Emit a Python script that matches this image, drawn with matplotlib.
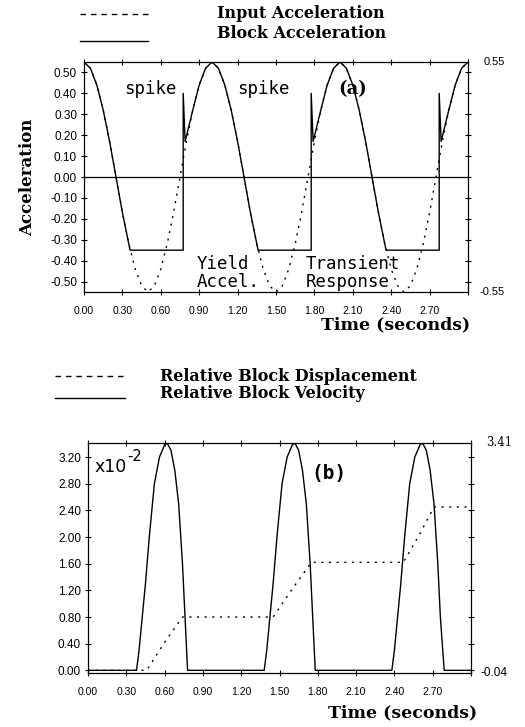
import matplotlib
matplotlib.use("Agg")
import matplotlib.pyplot as plt
from matplotlib.lines import Line2D

# ---------------- data ----------------
# Panel (a): input acceleration (g) sampled every 0.05 s
input_t = [0.00, 0.05, 0.10, 0.15, 0.20, 0.25, 0.30, 0.35, 0.40, 0.45,
           0.50, 0.55, 0.60, 0.65, 0.70, 0.75, 0.80, 0.85, 0.90, 0.95,
           1.00, 1.05, 1.10, 1.15, 1.20, 1.25, 1.30, 1.35, 1.40, 1.45,
           1.50, 1.55, 1.60, 1.65, 1.70, 1.75, 1.80, 1.85, 1.90, 1.95,
           2.00, 2.05, 2.10, 2.15, 2.20, 2.25, 2.30, 2.35, 2.40, 2.45,
           2.50, 2.55, 2.60, 2.65, 2.70, 2.75, 2.80, 2.85, 2.90, 2.95, 3.00]
input_acc = [0.55, 0.52, 0.44, 0.32, 0.17, 0.00, -0.17, -0.32, -0.44, -0.52,
             -0.55, -0.52, -0.44, -0.32, -0.17, 0.00, 0.17, 0.32, 0.44, 0.52,
             0.55, 0.52, 0.44, 0.32, 0.17, 0.00, -0.17, -0.32, -0.44, -0.52,
             -0.55, -0.52, -0.44, -0.32, -0.17, 0.00, 0.17, 0.32, 0.44, 0.52,
             0.55, 0.52, 0.44, 0.32, 0.17, 0.00, -0.17, -0.32, -0.44, -0.52,
             -0.55, -0.52, -0.44, -0.32, -0.17, 0.00, 0.17, 0.32, 0.44, 0.52, 0.55]

# Block acceleration (yield acceleration -0.35 g, spikes at end of sliding)
block_t = [0.00, 0.05, 0.10, 0.15, 0.20, 0.25, 0.30, 0.36, 0.775, 0.775, 0.79,
           0.85, 0.90, 0.95, 1.00, 1.05, 1.10, 1.15, 1.20, 1.25, 1.30, 1.36,
           1.775, 1.775, 1.79, 1.85, 1.90, 1.95, 2.00, 2.05, 2.10, 2.15, 2.20,
           2.25, 2.30, 2.36, 2.775, 2.775, 2.79, 2.85, 2.90, 2.95, 3.00]
block_acc = [0.55, 0.52, 0.44, 0.32, 0.17, 0.00, -0.17, -0.35, -0.35, 0.40, 0.17,
             0.32, 0.44, 0.52, 0.55, 0.52, 0.44, 0.32, 0.17, 0.00, -0.17, -0.35,
             -0.35, 0.40, 0.17, 0.32, 0.44, 0.52, 0.55, 0.52, 0.44, 0.32, 0.17,
             0.00, -0.17, -0.35, -0.35, 0.40, 0.17, 0.32, 0.44, 0.52, 0.55]

# Panel (b): relative block velocity (x10^-2)
vel_t = [0.00, 0.38, 0.40, 0.42, 0.45, 0.48, 0.52, 0.56, 0.60, 0.62, 0.65, 0.68,
         0.71, 0.74, 0.76, 0.78,
         1.38, 1.40, 1.42, 1.45, 1.48, 1.52, 1.56, 1.60, 1.62, 1.65, 1.68,
         1.71, 1.74, 1.76, 1.78,
         2.38, 2.40, 2.42, 2.45, 2.48, 2.52, 2.56, 2.60, 2.62, 2.65, 2.68,
         2.71, 2.74, 2.76, 2.79, 3.00]
vel_v = [0.00, 0.00, 0.30, 0.70, 1.30, 2.00, 2.80, 3.20, 3.38, 3.41, 3.30, 3.00,
         2.50, 1.60, 0.80, 0.00,
         0.00, 0.30, 0.70, 1.30, 2.00, 2.80, 3.20, 3.38, 3.41, 3.30, 3.00,
         2.50, 1.60, 0.80, 0.00,
         0.00, 0.30, 0.70, 1.30, 2.00, 2.80, 3.20, 3.38, 3.41, 3.30, 3.00,
         2.50, 1.60, 0.80, 0.00, 0.00]

# Relative block displacement (x10^-2)
disp_t = [0.00, 0.46, 0.60, 0.74, 1.45, 1.60, 1.75, 2.47, 2.60, 2.71, 3.00]
disp_d = [0.00, 0.00, 0.42, 0.80, 0.80, 1.22, 1.62, 1.62, 2.05, 2.45, 2.45]

time_ticks = [0.00, 0.30, 0.60, 0.90, 1.20, 1.50, 1.80, 2.10, 2.40, 2.70, 3.00]
time_labels = ["0.00", "0.30", "0.60", "0.90", "1.20", "1.50", "1.80",
               "2.10", "2.40", "2.70", ""]
acc_ticks = [0.50, 0.40, 0.30, 0.20, 0.10, 0.00, -0.10, -0.20, -0.30, -0.40, -0.50]
acc_labels = ["0.50", "0.40", "0.30", "0.20", "0.10", "0.00",
              "-0.10", "-0.20", "-0.30", "-0.40", "-0.50"]
disp_ticks = [0.00, 0.40, 0.80, 1.20, 1.60, 2.00, 2.40, 2.80, 3.20]
disp_labels = ["0.00", "0.40", "0.80", "1.20", "1.60", "2.00", "2.40", "2.80", "3.20"]

# ---------------- figure ----------------
W, H = 525, 727
fig = plt.figure(figsize=(W / 100, H / 100), dpi=100)
fig.patch.set_facecolor("white")

SERIF = "DejaVu Serif"
MONO = "DejaVu Sans Mono"
SANS = "Liberation Sans"


def fx(px):
    return px / W


def fy(py):
    return 1 - py / H


def style_axes(ax):
    for s in ax.spines.values():
        s.set_linewidth(0.9)
        s.set_color("black")
    ax.tick_params(axis="both", which="both", direction="inout", length=4,
                   width=0.8, top=True, right=True, labelright=False,
                   labeltop=False, colors="black")
    ax.tick_params(axis="x", labelsize=7.5, pad=8)
    ax.tick_params(axis="y", labelsize=8.5, pad=3)
    for lab in ax.get_xticklabels() + ax.get_yticklabels():
        lab.set_family(SANS)


# ---------- panel (a) ----------
axa = fig.add_axes([fx(84), fy(292), fx(468) - fx(84), fy(62) - fy(292)])
axa.plot(input_t, input_acc, color="black", lw=1.0, ls=(0, (1.5, 4)))
axa.plot(block_t, block_acc, color="black", lw=1.0)
axa.axhline(0, color="black", lw=0.9)
axa.set_xlim(0, 3.0)
axa.set_ylim(-0.55, 0.55)
axa.set_xticks(time_ticks)
axa.set_xticklabels(time_labels)
axa.set_yticks(acc_ticks)
axa.set_yticklabels(acc_labels)
style_axes(axa)
axa.set_ylabel("Acceleration", family=SERIF, fontweight="bold", fontsize=12,
               labelpad=10)
axa.text(1.04, 1.0, "0.55", transform=axa.transAxes, ha="left", va="center",
         family=SANS, fontsize=8)
axa.text(1.03, 0.0, "-0.55", transform=axa.transAxes, ha="left", va="center",
         family=SANS, fontsize=8)
axa.text(0.52, 0.42, "spike", ha="center", va="center", family=MONO, fontsize=12.5)
axa.text(1.40, 0.42, "spike", ha="center", va="center", family=MONO, fontsize=12.5)
axa.text(2.10, 0.42, "(a)", ha="center", va="center", family=SERIF,
         fontweight="bold", fontsize=13)
axa.text(0.88, -0.415, "Yield", ha="left", va="center", family=MONO, fontsize=12.5)
axa.text(0.88, -0.50, "Accel.", ha="left", va="center", family=MONO, fontsize=12.5)
axa.text(1.73, -0.415, "Transient", ha="left", va="center", family=MONO, fontsize=12.5)
axa.text(1.73, -0.50, "Response", ha="left", va="center", family=MONO, fontsize=12.5)

fig.text(fx(470), fy(325), "Time (seconds)", ha="right", va="center",
         family=SERIF, fontweight="bold", fontsize=12.5)

# legend (a)
fig.add_artist(Line2D([fx(80), fx(148)], [fy(14), fy(14)], color="black",
                      lw=1.0, ls=(0, (4, 3.5))))
fig.add_artist(Line2D([fx(80), fx(148)], [fy(41), fy(41)], color="black", lw=1.0))
fig.text(fx(217), fy(14), "Input Acceleration", ha="left", va="center",
         family=SERIF, fontweight="bold", fontsize=11.5)
fig.text(fx(217), fy(33), "Block Acceleration", ha="left", va="center",
         family=SERIF, fontweight="bold", fontsize=11.5)

# ---------- panel (b) ----------
axb = fig.add_axes([fx(88), fy(673), fx(471) - fx(88), fy(443) - fy(673)])
axb.plot(disp_t, disp_d, color="black", lw=1.0, ls=(0, (1.5, 4)))
axb.plot(vel_t, vel_v, color="black", lw=1.0)
axb.set_xlim(0, 3.0)
axb.set_ylim(-0.04, 3.41)
axb.set_xticks(time_ticks)
axb.set_xticklabels(time_labels)
axb.set_yticks(disp_ticks)
axb.set_yticklabels(disp_labels)
style_axes(axb)
axb.text(1.04, 1.0, "3.41", transform=axb.transAxes, ha="left", va="center",
         family=SERIF, fontsize=8.5)
axb.text(1.025, 0.0, "-0.04", transform=axb.transAxes, ha="left", va="center",
         family=SANS, fontsize=8.5)
axb.text(0.05, 3.05, "x10", ha="left", va="center", family="DejaVu Sans",
         fontsize=12.5)
axb.text(0.31, 3.21, "-2", ha="left", va="center", family="DejaVu Sans",
         fontsize=10.5)
axb.text(1.89, 2.95, "(b)", ha="center", va="center", family=MONO,
         fontweight="bold", fontsize=14)

fig.text(fx(477), fy(713), "Time (seconds)", ha="right", va="center",
         family=SERIF, fontweight="bold", fontsize=12.5)

# legend (b)
fig.add_artist(Line2D([fx(55), fx(125)], [fy(376), fy(376)], color="black",
                      lw=1.0, ls=(0, (4, 3.5))))
fig.add_artist(Line2D([fx(55), fx(125)], [fy(398), fy(398)], color="black", lw=1.0))
fig.text(fx(160), fy(376), "Relative Block Displacement", ha="left", va="center",
         family=SERIF, fontweight="bold", fontsize=11.5)
fig.text(fx(160), fy(393), "Relative Block Velocity", ha="left", va="center",
         family=SERIF, fontweight="bold", fontsize=11.5)

fig.savefig("out.png", dpi=100, facecolor="white")
